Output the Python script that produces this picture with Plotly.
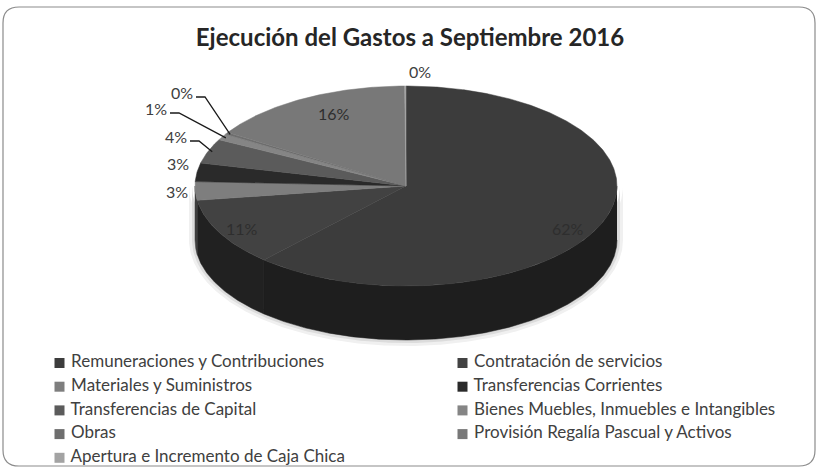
import numpy as np
import plotly.graph_objects as go

# Datos del gráfico (porcentaje de ejecución por partida)
categorias = [
    "Remuneraciones y Contribuciones",
    "Contratación de servicios",
    "Materiales y Suministros",
    "Transferencias Corrientes",
    "Transferencias de Capital",
    "Bienes Muebles, Inmuebles e Intangibles",
    "Obras",
    "Provisión Regalía Pascual y Activos",
    "Apertura e Incremento de Caja Chica",
]
porcentajes = [62, 11, 3, 3, 4, 1, 0.3, 16, 0.1]
colores = ["#3c3c3c", "#424242", "#7e7e7e", "#2a2a2a", "#5b5b5b",
           "#858585", "#6e6e6e", "#787878", "#a3a3a3"]
titulo = "Ejecución del Gastos a Septiembre 2016"

# Geometría del pastel 3D (en pixeles)
W, H = 818, 470
cx, cy, a, b, prof = 406, 186, 211, 100, 54
fuente = "Lato, 'Open Sans', sans-serif"

total = sum(porcentajes)
bordes = np.concatenate([[0], np.cumsum(porcentajes)]) / total * 360
textos = [f"{round(v / total * 100)}%" for v in porcentajes]


def arco(t1, t2, ra=a, rb=b, y0=cy):
    th = np.radians(np.linspace(t1, t2, max(int(abs(t2 - t1) * 2) + 2, 2)))
    return cx + ra * np.sin(th), y0 - rb * np.cos(th)


def oscurecer(c, f):
    r, g, bb = int(c[1:3], 16), int(c[3:5], 16), int(c[5:7], 16)
    return "rgb(%d,%d,%d)" % (r * f, g * f, bb * f)


fig = go.Figure()

# Sombra suave bajo el pastel
for extra, gris in [(6, "#f0f0f0"), (3, "#dcdcdc")]:
    xs, ys = arco(90, 270, a + extra, b + extra, cy + prof)
    xt, yt = arco(90, 270, a + extra, b + extra, cy)
    fig.add_trace(go.Scatter(
        x=np.concatenate([xs, xt[::-1]]), y=np.concatenate([ys, yt[::-1]]),
        fill="toself", fillcolor=gris, mode="lines", line=dict(width=0, color=gris),
        hoverinfo="skip", showlegend=False))

# Pared lateral (solo la mitad frontal es visible)
for i in range(len(porcentajes)):
    lo, hi = max(bordes[i], 90), min(bordes[i + 1], 270)
    if hi <= lo:
        continue
    xs, ys = arco(lo, hi)
    fig.add_trace(go.Scatter(
        x=np.concatenate([xs, xs[::-1]]), y=np.concatenate([ys, ys[::-1] + prof]),
        fill="toself", fillcolor=oscurecer(colores[i], 0.5), mode="lines",
        line=dict(width=0.5, color=oscurecer(colores[i], 0.5)),
        hoverinfo="skip", showlegend=False))

# Cara superior
for i in range(len(porcentajes)):
    xs, ys = arco(bordes[i], bordes[i + 1])
    fig.add_trace(go.Scatter(
        x=np.concatenate([[cx], xs, [cx]]), y=np.concatenate([[cy], ys, [cy]]),
        fill="toself", fillcolor=colores[i], mode="lines",
        line=dict(width=0.5, color=colores[i]),
        name=categorias[i], text=textos[i], hoverinfo="name+text", showlegend=False))

# Etiquetas de porcentaje (posición en pixeles y si llevan línea guía)
pos_etiquetas = {0: (568, 228, False), 1: (242, 228, False), 2: (177, 191, False),
                 3: (178, 163, False), 4: (176, 136, True), 5: (156, 108, True),
                 6: (182, 92, True), 7: (334, 113, False), 8: (420, 71, False)}
for i, (lx, ly, guia) in pos_etiquetas.items():
    interior = porcentajes[i] / total > 0.05
    fig.add_annotation(x=lx, y=ly, text=textos[i], showarrow=False,
                       font=dict(family=fuente, size=16,
                                 color="#2e2e2e" if interior else "#404040"))
    if guia:
        tm = np.radians((bordes[i] + bordes[i + 1]) / 2)
        ex, ey = cx + 0.98 * a * np.sin(tm), cy - 0.98 * b * np.cos(tm)
        fig.add_shape(type="path", xref="x", yref="y",
                      path=f"M{lx + 14},{ly + 5} L{lx + 23},{ly + 5} L{ex},{ey}",
                      line=dict(color="#1a1a1a", width=1.3))

# Leyenda en dos columnas
filas = np.arange(len(categorias)) // 2
cols = np.arange(len(categorias)) % 2
fig.add_trace(go.Scatter(
    x=59.5 + cols * 403, y=363 + filas * 23.7, mode="markers+text",
    marker=dict(symbol="square", size=10, color=colores),
    text=[" " + c for c in categorias], textposition="middle right",
    textfont=dict(family=fuente, size=17, color="#404040"),
    hoverinfo="skip", showlegend=False))

# Marco redondeado del gráfico
r = 16
x0, y0, x1, y1 = 3, 7, 815, 466
fig.add_shape(type="path", xref="x", yref="y", layer="below",
              path=(f"M{x0 + r},{y0} L{x1 - r},{y0} Q{x1},{y0} {x1},{y0 + r} "
                    f"L{x1},{y1 - r} Q{x1},{y1} {x1 - r},{y1} L{x0 + r},{y1} "
                    f"Q{x0},{y1} {x0},{y1 - r} L{x0},{y0 + r} Q{x0},{y0} {x0 + r},{y0} Z"),
              line=dict(color="#8c8c8c", width=1.2), fillcolor="white")

fig.update_layout(
    width=W, height=H, margin=dict(l=0, r=0, t=0, b=0),
    paper_bgcolor="white", plot_bgcolor="white",
    title=dict(text="<b>" + titulo + "</b>", x=410 / W, y=1 - 38 / H,
               xanchor="center", yanchor="middle",
               font=dict(family=fuente, size=24, color="#262626")),
    xaxis=dict(range=[0, W], visible=False, fixedrange=True),
    yaxis=dict(range=[H, 0], visible=False, fixedrange=True),
)

# Quitar el margen por defecto del body para que el gráfico quede en (0,0)
fig.write_html("out.html", config={"displayModeBar": False},
               post_script="document.body.style.margin='0';")
